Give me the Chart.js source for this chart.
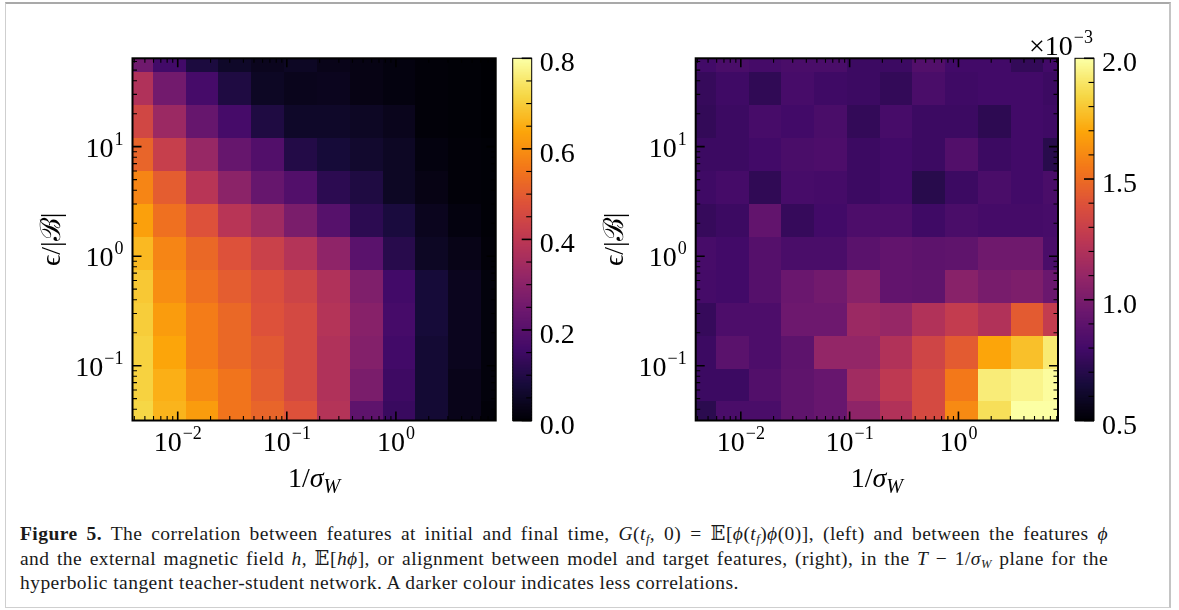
<!DOCTYPE html>
<html>
<head>
<meta charset="utf-8">
<script src="https://cdn.jsdelivr.net/npm/chart.js@4.4.1/dist/chart.umd.min.js"></script>
<style>
  body { margin: 0; width: 1179px; height: 610px; overflow: hidden; position: relative; background: #fff; }
  #frame { position: absolute; left: 5px; top: 2px; width: 1166px; height: 606px; box-sizing: border-box;
           border: 1px solid #cfcfcf; border-top: 2px solid #a9a9a9; border-right: 2px solid #c4c4c4; }
  .panel { position: absolute; top: 0; }
  #caption { position: absolute; left: 20px; top: 522px; font-family: "Liberation Serif", "DejaVu Serif", serif;
             font-size: 19.5px; letter-spacing: 0.45px; line-height: 24.5px; color: #1a1a1a; }
  #caption div { width: 1088px; white-space: nowrap; }
  #caption .just { text-align: justify; text-align-last: justify; white-space: normal; }
  #caption sub { font-size: 12.5px; line-height: 0; vertical-align: -3px; }
</style>
</head>
<body>
<div id="frame"></div>
<div class="panel" style="left:0px"><canvas id="leftChart" width="590" height="520"></canvas></div>
<div class="panel" style="left:590px"><canvas id="rightChart" width="589" height="520"></canvas></div>
<div id="caption">
  <div class="just"><b>Figure 5.</b> The correlation between features at initial and final time, <i>G</i>(<i>t<sub>f</sub></i>,&nbsp;0)&nbsp;=&nbsp;𝔼[<i>ϕ</i>(<i>t<sub>f</sub></i>)<i>ϕ</i>(0)], (left) and between the features <i>ϕ</i></div>
  <div class="just">and the external magnetic field <i>h</i>, 𝔼[<i>hϕ</i>], or alignment between model and target features, (right), in the <i>T</i>&nbsp;−&nbsp;1/<i>σ<sub>W</sub></i> plane for the</div>
  <div>hyperbolic tangent teacher-student network. A darker colour indicates less correlations.</div>
</div>
<script>
// cell centres: 1/sigma_W (columns, left to right) and eps/|B| (rows, top to bottom)
var xVals = [0.00417, 0.00833, 0.0167, 0.0333, 0.0667, 0.133, 0.267, 0.533, 1.07, 2.13, 4.27, 8.53];
var yVals = [68.3, 34.1, 17.1, 8.53, 4.27, 2.13, 1.07, 0.533, 0.267, 0.133, 0.0667, 0.0333];

// left panel: G(t_f, 0), rows top to bottom
var corrRows = [
  [0.250, 0.160, 0.090, 0.056, 0.040, 0.048, 0.032, 0.024, 0.016, 0.008, 0.004, 0.000],
  [0.376, 0.256, 0.168, 0.096, 0.048, 0.036, 0.040, 0.024, 0.016, 0.008, 0.004, 0.000],
  [0.448, 0.336, 0.232, 0.168, 0.096, 0.056, 0.056, 0.048, 0.036, 0.008, 0.004, 0.000],
  [0.520, 0.424, 0.328, 0.232, 0.192, 0.104, 0.080, 0.064, 0.048, 0.016, 0.008, 0.004],
  [0.584, 0.504, 0.392, 0.304, 0.232, 0.192, 0.120, 0.096, 0.048, 0.024, 0.008, 0.004],
  [0.632, 0.544, 0.480, 0.392, 0.344, 0.272, 0.200, 0.120, 0.088, 0.040, 0.016, 0.004],
  [0.672, 0.584, 0.528, 0.480, 0.432, 0.384, 0.312, 0.208, 0.112, 0.048, 0.028, 0.008],
  [0.696, 0.600, 0.544, 0.504, 0.472, 0.440, 0.376, 0.280, 0.160, 0.080, 0.040, 0.012],
  [0.704, 0.624, 0.568, 0.528, 0.480, 0.456, 0.384, 0.296, 0.168, 0.080, 0.040, 0.012],
  [0.712, 0.640, 0.568, 0.528, 0.496, 0.456, 0.376, 0.288, 0.160, 0.072, 0.040, 0.012],
  [0.712, 0.656, 0.592, 0.552, 0.504, 0.456, 0.376, 0.272, 0.152, 0.072, 0.032, 0.012],
  [0.720, 0.664, 0.624, 0.552, 0.520, 0.480, 0.384, 0.216, 0.144, 0.072, 0.032, 0.008]
];

// right panel: E[h phi] in units of 1e-3, rows top to bottom
var alignRows = [
  [0.80, 0.83, 0.81, 0.83, 0.83, 0.78, 0.78, 0.86, 0.80, 0.80, 0.75, 0.80],
  [0.76, 0.79, 0.74, 0.82, 0.79, 0.78, 0.75, 0.83, 0.79, 0.80, 0.80, 0.78],
  [0.75, 0.78, 0.82, 0.80, 0.83, 0.75, 0.82, 0.78, 0.78, 0.73, 0.80, 0.79],
  [0.78, 0.78, 0.80, 0.83, 0.84, 0.78, 0.80, 0.78, 0.86, 0.78, 0.80, 0.71],
  [0.79, 0.81, 0.74, 0.82, 0.81, 0.78, 0.80, 0.71, 0.78, 0.83, 0.80, 0.83],
  [0.76, 0.78, 0.92, 0.76, 0.80, 0.84, 0.84, 0.79, 0.83, 0.81, 0.81, 0.82],
  [0.82, 0.80, 0.87, 0.83, 0.83, 0.89, 0.92, 0.90, 0.91, 0.97, 0.97, 0.83],
  [0.81, 0.80, 0.87, 0.95, 0.98, 1.06, 0.92, 0.91, 1.06, 1.00, 1.02, 0.95],
  [0.76, 0.84, 0.84, 0.96, 0.96, 1.13, 1.11, 1.21, 1.28, 1.21, 1.44, 1.28],
  [0.78, 0.89, 0.84, 0.90, 1.10, 1.10, 1.21, 1.33, 1.44, 1.70, 1.78, 1.92],
  [0.78, 0.78, 0.86, 0.91, 0.94, 1.15, 1.26, 1.36, 1.55, 1.93, 1.96, 1.99],
  [0.72, 0.83, 0.83, 0.91, 0.94, 1.08, 1.21, 1.36, 1.61, 1.88, 2.00, 2.00]
];

// axis ticks and labels
var xMajor = [0.01, 0.1, 1];
var xTickLabels = [['10', '\u22122'], ['10', '\u22121'], ['10', '0']];
var yMajor = [0.1, 1, 10];
var yTickLabels = [['10', '\u22121'], ['10', '0'], ['10', '1']];
var corrTicks = [0.0, 0.2, 0.4, 0.6, 0.8];
var corrTickLabels = ['0.0', '0.2', '0.4', '0.6', '0.8'];
var alignTicks = [0.5, 1.0, 1.5, 2.0];
var alignTickLabels = ['0.5', '1.0', '1.5', '2.0'];

var xMin = 0.00385, xMax = 8.22;
var yMin = 0.0316, yMax = 64.1;

var SERIF = '"Liberation Serif", "DejaVu Serif", serif';
var INFERNO = ['#000004', '#160b39', '#420a68', '#6a176e', '#932667', '#bc3754',
               '#dd513a', '#f37819', '#fca50a', '#f6d746', '#fcffa4'];

function hexRgb(h) {
  return [parseInt(h.substr(1, 2), 16), parseInt(h.substr(3, 2), 16), parseInt(h.substr(5, 2), 16)];
}
function inferno(t) {
  t = Math.min(1, Math.max(0, t));
  var p = t * (INFERNO.length - 1);
  var i = Math.min(Math.floor(p), INFERNO.length - 2), f = p - i;
  var a = hexRgb(INFERNO[i]), b = hexRgb(INFERNO[i + 1]);
  return 'rgb(' + Math.round(a[0] + (b[0] - a[0]) * f) + ',' + Math.round(a[1] + (b[1] - a[1]) * f) + ',' +
         Math.round(a[2] + (b[2] - a[2]) * f) + ')';
}
// cell borders = geometric midpoints between neighbouring centres
function edges(vals) {
  var e = [vals[0] * Math.sqrt(vals[0] / vals[1])];
  for (var i = 1; i < vals.length; i++) e.push(Math.sqrt(vals[i - 1] * vals[i]));
  var n = vals.length;
  e.push(vals[n - 1] * Math.sqrt(vals[n - 1] / vals[n - 2]));
  return e;
}
function logTicks(min, max) {
  var out = [];
  for (var e = Math.floor(Math.log10(min)); e <= Math.ceil(Math.log10(max)); e++) {
    for (var m = 1; m <= 9; m++) {
      var v = m * Math.pow(10, e);
      if (v >= min && v <= max) out.push({ v: v, major: m === 1 });
    }
  }
  return out;
}
function sciText(ctx, parts, x, y, align) {
  ctx.font = '28px ' + SERIF;
  var wb = ctx.measureText(parts[0]).width;
  ctx.font = '18px ' + SERIF;
  var ws = ctx.measureText(parts[1]).width;
  var w = wb + 1 + ws;
  var x0 = align === 'center' ? x - w / 2 : (align === 'right' ? x - w : x);
  ctx.textAlign = 'left';
  ctx.textBaseline = 'alphabetic';
  ctx.font = '28px ' + SERIF;
  ctx.fillText(parts[0], x0, y);
  ctx.font = '18px ' + SERIF;
  ctx.fillText(parts[1], x0 + wb + 1, y - 12);
}

var heatmapPlugin = {
  id: 'heatmap',
  beforeDatasetsDraw: function(chart, args, opts) {
    var ctx = chart.ctx, a = chart.chartArea, xs = chart.scales.x, ys = chart.scales.y;
    var xe = edges(xVals), ye = edges(yVals);
    var cells = chart.data.datasets[0].data;
    ctx.save();
    ctx.beginPath();
    ctx.rect(a.left, a.top, a.right - a.left, a.bottom - a.top);
    ctx.clip();
    cells.forEach(function(d) {
      var x0 = Math.round(xs.getPixelForValue(xe[d.c])), x1 = Math.round(xs.getPixelForValue(xe[d.c + 1]));
      var y0 = Math.round(ys.getPixelForValue(ye[d.r])), y1 = Math.round(ys.getPixelForValue(ye[d.r + 1]));
      ctx.fillStyle = inferno((d.v - opts.vmin) / (opts.vmax - opts.vmin));
      ctx.fillRect(Math.min(x0, x1), Math.min(y0, y1), Math.abs(x1 - x0), Math.abs(y1 - y0));
    });
    ctx.restore();
  },
  afterDraw: function(chart, args, opts) {
    var ctx = chart.ctx, a = chart.chartArea, xs = chart.scales.x, ys = chart.scales.y, cs = chart.scales.c;
    ctx.save();
    ctx.fillStyle = '#000';
    ctx.strokeStyle = '#000';

    // inward ticks on all four sides
    logTicks(xMin, xMax).forEach(function(t) {
      var px = xs.getPixelForValue(t.v), len = t.major ? 9 : 4.5;
      ctx.lineWidth = t.major ? 1.6 : 1.1;
      ctx.beginPath();
      ctx.moveTo(px, a.bottom); ctx.lineTo(px, a.bottom - len);
      ctx.moveTo(px, a.top); ctx.lineTo(px, a.top + len);
      ctx.stroke();
    });
    logTicks(yMin, yMax).forEach(function(t) {
      var py = ys.getPixelForValue(t.v), len = t.major ? 9 : 4.5;
      ctx.lineWidth = t.major ? 1.6 : 1.1;
      ctx.beginPath();
      ctx.moveTo(a.left, py); ctx.lineTo(a.left + len, py);
      ctx.moveTo(a.right, py); ctx.lineTo(a.right - len, py);
      ctx.stroke();
    });
    ctx.lineWidth = 2;
    ctx.strokeRect(a.left, a.top, a.right - a.left, a.bottom - a.top);

    // tick labels
    xMajor.forEach(function(v, i) {
      sciText(ctx, xTickLabels[i], xs.getPixelForValue(v), a.bottom + 30, 'center');
    });
    yMajor.forEach(function(v, i) {
      sciText(ctx, yTickLabels[i], a.left - 9, ys.getPixelForValue(v) + 10, 'right');
    });

    // axis titles
    ctx.textBaseline = 'alphabetic';
    ctx.textAlign = 'left';
    ctx.font = '28px ' + SERIF;
    var t1 = '1/', w1 = ctx.measureText(t1).width;
    ctx.font = 'italic 28px ' + SERIF;
    var w2 = ctx.measureText('\u03c3').width;
    ctx.font = 'italic 20px ' + SERIF;
    var w3 = ctx.measureText('W').width;
    var xc = (a.left + a.right) / 2, bx = xc - (w1 + w2 + w3) / 2, by = a.bottom + 66;
    ctx.font = '28px ' + SERIF; ctx.fillText(t1, bx, by);
    ctx.font = 'italic 28px ' + SERIF; ctx.fillText('\u03c3', bx + w1, by);
    ctx.font = 'italic 20px ' + SERIF; ctx.fillText('W', bx + w1 + w2, by + 6);

    ctx.save();
    ctx.translate(a.left - 80, (a.top + a.bottom) / 2);
    ctx.rotate(-Math.PI / 2);
    ctx.textAlign = 'center';
    ctx.textBaseline = 'middle';
    ctx.font = '28px ' + SERIF;
    ctx.fillText('\u03f5/|\u212c|', 0, 0);
    ctx.restore();

    // colour bar drawn through its own linear scale
    var cbL = a.right + 17, cbW = 19, steps = 240;
    for (var k = 0; k < steps; k++) {
      var v0 = opts.vmin + (opts.vmax - opts.vmin) * k / steps;
      var v1 = opts.vmin + (opts.vmax - opts.vmin) * (k + 1) / steps;
      var p0 = cs.getPixelForValue(v0), p1 = cs.getPixelForValue(v1);
      ctx.fillStyle = inferno(((v0 + v1) / 2 - opts.vmin) / (opts.vmax - opts.vmin));
      ctx.fillRect(cbL, Math.floor(p1), cbW, Math.ceil(p0) - Math.floor(p1) + 0.5);
    }
    ctx.fillStyle = '#000';
    ctx.lineWidth = 1;
    ctx.strokeRect(cbL, cs.getPixelForValue(opts.vmax), cbW, cs.getPixelForValue(opts.vmin) - cs.getPixelForValue(opts.vmax));
    var cbR = cbL + cbW;
    for (var m = 0; m <= Math.round((opts.vmax - opts.vmin) / opts.minorStep); m++) {
      var mv = opts.vmin + m * opts.minorStep;
      var isMajor = opts.ticks.some(function(t) { return Math.abs(t - mv) < 1e-9; });
      var py = cs.getPixelForValue(mv);
      ctx.lineWidth = isMajor ? 1.6 : 1.1;
      ctx.beginPath();
      ctx.moveTo(cbR, py); ctx.lineTo(cbR - (isMajor ? 10 : 5.5), py);
      ctx.stroke();
    }
    ctx.font = '28px ' + SERIF;
    ctx.textAlign = 'left';
    ctx.textBaseline = 'alphabetic';
    opts.ticks.forEach(function(v, i) {
      ctx.fillText(opts.labels[i], cbR + 8, cs.getPixelForValue(v) + 13);
    });
    if (opts.offset) {
      ctx.font = '28px ' + SERIF;
      var wx = ctx.measureText('\u00d710').width;
      ctx.font = '18px ' + SERIF;
      var we = ctx.measureText(opts.offset).width;
      var ox = cbR - 1 - wx - 1 - we;
      ctx.font = '28px ' + SERIF;
      ctx.fillText('\u00d710', ox, a.top - 3);
      ctx.font = '18px ' + SERIF;
      ctx.fillText(opts.offset, ox + wx + 1, a.top - 15);
    }
    ctx.restore();
  }
};

function cellsFrom(rows) {
  var out = [];
  rows.forEach(function(row, r) {
    row.forEach(function(v, c) {
      out.push({ x: xVals[c], y: yVals[r], v: v, r: r, c: c });
    });
  });
  return out;
}

function makePanel(id, rows, pad, cb) {
  return new Chart(document.getElementById(id), {
    type: 'scatter',
    data: { datasets: [{ data: cellsFrom(rows), pointRadius: 0, pointHoverRadius: 0 }] },
    options: {
      responsive: false,
      animation: false,
      events: [],
      layout: { padding: pad },
      plugins: { legend: { display: false }, tooltip: { enabled: false }, heatmap: cb },
      scales: {
        x: { type: 'logarithmic', min: xMin, max: xMax, display: false },
        y: { type: 'logarithmic', min: yMin, max: yMax, display: false },
        c: { type: 'linear', axis: 'y', position: 'right', min: cb.vmin, max: cb.vmax, display: false }
      }
    },
    plugins: [heatmapPlugin]
  });
}

makePanel('leftChart', corrRows, { left: 132.5, top: 58.3, right: 94.3, bottom: 99.5 },
  { vmin: 0, vmax: 0.8, ticks: corrTicks, labels: corrTickLabels, minorStep: 0.05, offset: '' });
makePanel('rightChart', alignRows, { left: 105.7, top: 58.3, right: 121, bottom: 99.5 },
  { vmin: 0.5, vmax: 2.0, ticks: alignTicks, labels: alignTickLabels, minorStep: 0.1, offset: '\u22123' });
</script>
</body>
</html>
